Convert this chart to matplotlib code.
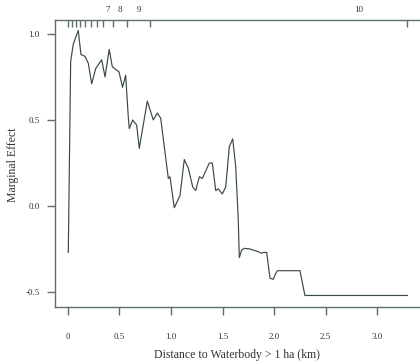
import matplotlib
matplotlib.use("Agg")
import matplotlib.pyplot as plt

# Marginal effect curve (distance km, effect)
dist = [0.003, 0.026, 0.051, 0.075, 0.10, 0.126, 0.165, 0.197, 0.23, 0.27,
        0.327, 0.36, 0.40, 0.43, 0.47, 0.495, 0.53, 0.56, 0.585, 0.595,
        0.628, 0.667, 0.692, 0.770, 0.828, 0.867, 0.90, 0.974, 0.99, 1.032,
        1.087, 1.129, 1.168, 1.211, 1.24, 1.275, 1.304, 1.372, 1.401, 1.434,
        1.459, 1.498, 1.531, 1.566, 1.599, 1.628, 1.653, 1.663, 1.686, 1.712,
        1.767, 1.848, 1.881, 1.896, 1.929, 1.961, 1.993, 2.01, 2.032, 2.252,
        2.30, 3.294]
effect = [-0.27, 0.84, 0.94, 0.98, 1.02, 0.88, 0.87, 0.83, 0.71, 0.80,
          0.85, 0.75, 0.91, 0.81, 0.79, 0.78, 0.69, 0.76, 0.52, 0.45,
          0.50, 0.47, 0.335, 0.61, 0.50, 0.54, 0.51, 0.16, 0.17, -0.01,
          0.06, 0.27, 0.22, 0.11, 0.09, 0.17, 0.16, 0.25, 0.25, 0.09,
          0.10, 0.07, 0.11, 0.345, 0.39, 0.23, -0.08, -0.30, -0.256, -0.246,
          -0.25, -0.266, -0.275, -0.27, -0.27, -0.42, -0.426, -0.40, -0.376, -0.376,
          -0.52, -0.52]

# Decile rug marks along the top
decile_marks = [0.0, 0.04, 0.08, 0.12, 0.17, 0.22, 0.28, 0.34, 0.44, 0.57, 0.80, 3.29]
decile_label_pos = [0.38, 0.50, 0.69, 2.82]
decile_labels = ["7", "8", "9", "10"]

xticks = [0, 0.5, 1.0, 1.5, 2.0, 2.5, 3.0]
xticklabels = ["0", "0.5", "1.0", "1.5", "2.0", "2.5", "3.0"]
yticks = [-0.5, 0.0, 0.5, 1.0]
yticklabels = ["-0.5", "0.0", "0.5", "1.0"]

plt.rcParams['font.family'] = ['Liberation Serif', 'DejaVu Serif']

W, H = 420, 362
fig = plt.figure(figsize=(W / 100, H / 100), dpi=100)
ax = fig.add_axes([55 / W, 1 - 307 / H, (W - 55) / W, (307 - 20) / H])

axcol = "#5f6e6e"
linecol = "#3a4848"

ax.plot(dist, effect, color=linecol, lw=0.85)

ax.set_xlim(-0.126, 3.417)
ax.set_ylim(-0.587, 1.081)

for s in ["left", "bottom", "top"]:
    ax.spines[s].set_color(axcol)
    ax.spines[s].set_linewidth(1.0)
ax.spines["right"].set_visible(False)

ax.set_xticks(xticks)
ax.set_xticklabels(xticklabels)
ax.set_yticks(yticks)
ax.set_yticklabels(yticklabels)
ax.tick_params(axis="x", direction="out", length=6, width=1.0, color=axcol,
               labelsize=6.5, pad=13, labelcolor="#333333")
ax.tick_params(axis="y", direction="out", length=6, width=1.0, color=axcol,
               labelsize=6.5, pad=5, labelcolor="#333333")

sec = ax.secondary_xaxis("top")
sec.spines["top"].set_visible(False)
sec.set_xticks(decile_label_pos)
sec.set_xticklabels(decile_labels)
sec.set_xticks(decile_marks, minor=True)
sec.tick_params(axis="x", which="major", length=0, labelsize=6.5, pad=4,
                labelcolor="#333333")
sec.tick_params(axis="x", which="minor", direction="in", length=5, width=1.0,
                color=axcol)

ax.set_xlabel("Distance to Waterbody > 1 ha (km)", fontsize=8.5,
              color="#333333")
ax.xaxis.set_label_coords((237 - 55) / (W - 55), -(349 - 307) / (307 - 20))
ax.set_ylabel("Marginal Effect", fontsize=8.5, color="#333333")
ax.yaxis.set_label_coords(-(55 - 19) / (W - 55), (307 - 165) / (307 - 20))

fig.savefig("out.png", dpi=100)
